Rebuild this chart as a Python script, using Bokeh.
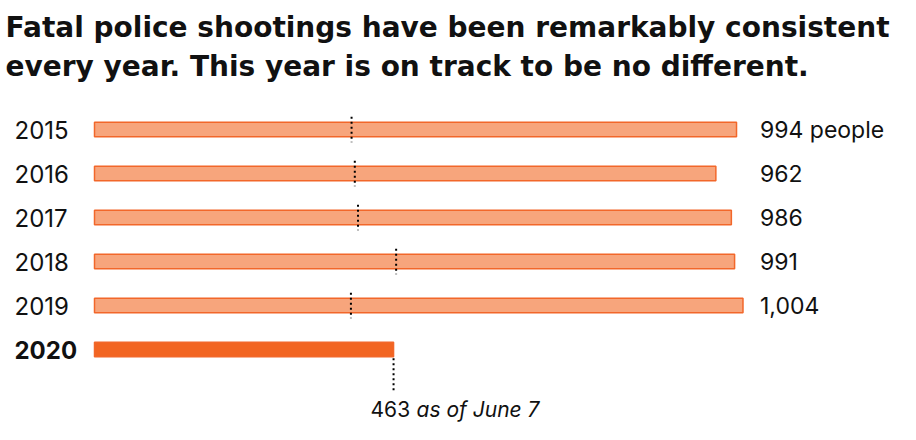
import pandas as pd
from bokeh.models import ColumnDataSource, Range1d, Label
from bokeh.plotting import figure
from bokeh.core.properties import value
from bokeh.embed import file_html
from bokeh.resources import INLINE

years = ["2015", "2016", "2017", "2018", "2019", "2020"]
totals = [994, 962, 986, 991, 1004, 463]
midyear = [398, 403, 408, 467, 397, 463]   # count as of June 7 each year
total_labels = ["994 people", "962", "986", "991", "1,004", ""]

color_past = "#f7a57c"
color_now = "#f26522"
color_edge = "#f2672a"

df = pd.DataFrame({"year": years, "total": totals, "mid": midyear, "lab": total_labels})
df["row"] = range(len(df))
df["fill"] = [color_past] * (len(df) - 1) + [color_now]
df["font_style"] = ["normal"] * (len(df) - 1) + ["bold"]
past = ColumnDataSource(df.iloc[:-1])
source = ColumnDataSource(df)

W, H = 900, 424
x_scale = 0.6459   # px per person
x0_px = 94
row0_px = 129
row_px = 44
p = figure(width=W, height=H, output_backend="svg", toolbar_location=None, tools="",
           x_range=Range1d(-x0_px / x_scale, (W - x0_px) / x_scale),
           y_range=Range1d((H - row0_px) / row_px, -row0_px / row_px),
           min_border=0, outline_line_color=None)
p.axis.visible = False
p.grid.visible = False

p.hbar(y="row", left=0, right="total", height=0.335, source=source,
       fill_color="fill", line_color=color_edge, line_width=1.5)

# mid-year markers
for r, m in zip(df["row"][:-1], df["mid"][:-1]):
    p.segment(x0=m, x1=m, y0=r - 0.29, y1=r + 0.29, line_color="black",
              line_width=2, line_dash="2 3")
r_now = df["row"].iloc[-1]
m_now = df["mid"].iloc[-1]
p.segment(x0=m_now, x1=m_now, y0=r_now + 0.2, y1=r_now + 0.98, line_color="black",
          line_width=2, line_dash="2 3")

# year labels
p.text(x=0, y="row", text="year", source=source, x_offset=-80,
       text_baseline="middle", text_align="left", text_font=value("Inter"),
       text_font_size="24px", text_font_style="font_style", text_color="#111111")

# total labels
p.text(x=max(totals), y="row", text="lab", source=past, x_offset=17,
       text_baseline="middle", text_align="left", text_font=value("Inter"),
       text_font_size="23px", text_color="#111111")

# 2020 annotation
p.text(x=[m_now], y=[r_now + 1.36], text=[str(m_now)], x_offset=-23,
       text_baseline="middle", text_align="left", text_font=value("Inter"),
       text_font_size="21px", text_font_style="normal", text_color="#111111")
p.text(x=[m_now], y=[r_now + 1.36], text=["as of June 7"], x_offset=23,
       text_baseline="middle", text_align="left", text_font=value("Inter"),
       text_font_size="21px", text_font_style="italic", text_color="#111111")

for i, line in enumerate(["Fatal police shootings have been remarkably consistent",
                          "every year. This year is on track to be no different."]):
    p.add_layout(Label(x=5, y=H - 27 - 39 * i, x_units="screen", y_units="screen",
                       text=line, text_font="DejaVu Sans", text_font_style="bold",
                       text_font_size="28px", text_baseline="alphabetic",
                       text_color="#111111"))

open("out.html", "w").write(file_html(p, INLINE))
